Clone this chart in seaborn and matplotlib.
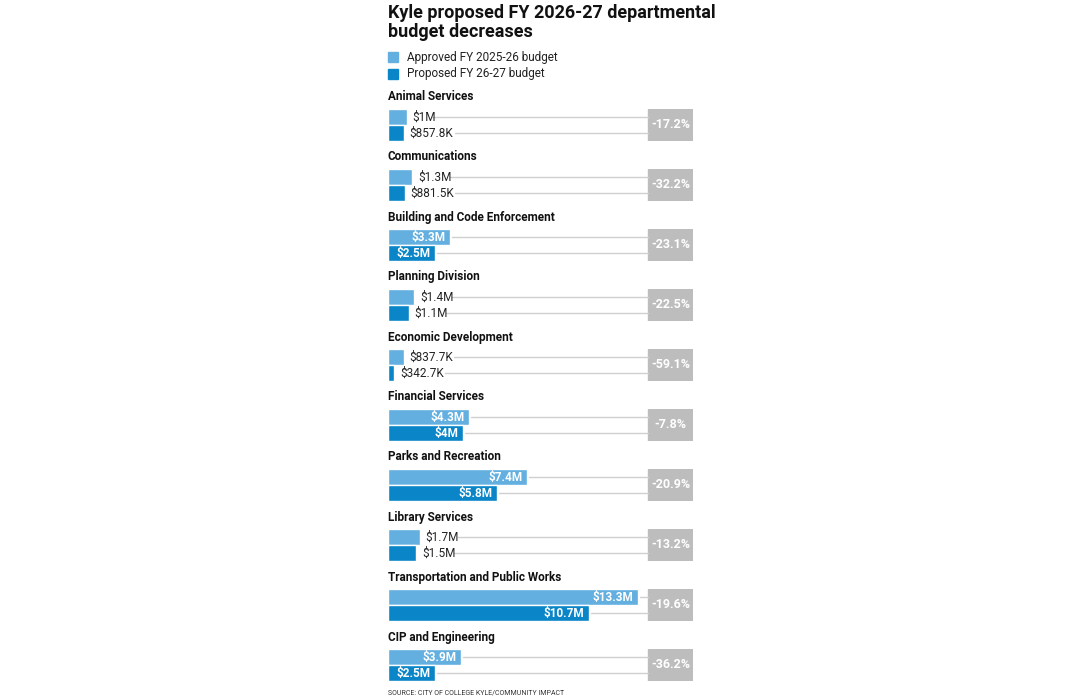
import matplotlib
matplotlib.use('Agg')
import matplotlib.pyplot as plt
import seaborn as sns
import pandas as pd

departments = ['Animal Services', 'Communications', 'Building and Code Enforcement',
               'Planning Division', 'Economic Development', 'Financial Services',
               'Parks and Recreation', 'Library Services',
               'Transportation and Public Works', 'CIP and Engineering']
approved = [1.0, 1.3, 3.3, 1.4, 0.8377, 4.3, 7.4, 1.7, 13.3, 3.9]
proposed = [0.8578, 0.8815, 2.5, 1.1, 0.3427, 4.0, 5.8, 1.5, 10.7, 2.5]
approved_labels = ['$1M', '$1.3M', '$3.3M', '$1.4M', '$837.7K', '$4.3M', '$7.4M', '$1.7M', '$13.3M', '$3.9M']
proposed_labels = ['$857.8K', '$881.5K', '$2.5M', '$1.1M', '$342.7K', '$4M', '$5.8M', '$1.5M', '$10.7M', '$2.5M']
changes = ['-17.2%', '-32.2%', '-23.1%', '-22.5%', '-59.1%', '-7.8%', '-20.9%', '-13.2%', '-19.6%', '-36.2%']

LIGHT = '#62afe0'
DARK = '#0a86c8'
GRAY = '#bdbdbd'
W, H = 1080, 699
sns.set_theme(style='white')
plt.rcParams['font.family'] = ['Roboto', 'DejaVu Sans']

fig = plt.figure(figsize=(10.8, 6.99), dpi=100)
fig.text(388 / W, 1 - 4 / H, 'Kyle proposed FY 2026-27 departmental\nbudget decreases',
         fontsize=13, fontweight='bold', va='top', ha='left', linespacing=1.1, color='#111')
for i, (lab, col) in enumerate([('Approved FY 2025-26 budget', LIGHT), ('Proposed FY 26-27 budget', DARK)]):
    y = 57 + 17 * i
    fig.patches.append(plt.Rectangle((388 / W, 1 - (y + 5) / H), 10 / W, 10 / H,
                                     transform=fig.transFigure, color=col))
    fig.text(407 / W, 1 - y / H, lab, fontsize=8.5, va='center', ha='left', color='#222')

x0, x1 = 388, 693
scale = 250 / 13.3
xmax = (x1 - x0) / scale
box_start = (648 - x0) / scale

for i, dept in enumerate(departments):
    top = 109 + 60 * i
    fig.text(388 / W, 1 - (top - 12) / H, dept, fontsize=8.5, fontweight='bold',
             va='center', ha='left', color='#111')
    ax = fig.add_axes([x0 / W, 1 - (top + 32) / H, (x1 - x0) / W, 32 / H])
    df = pd.DataFrame({'kind': ['Approved', 'Proposed'], 'value': [approved[i], proposed[i]]})
    sns.barplot(data=df, x='value', y='kind', hue='kind', palette=[LIGHT, DARK],
                orient='h', width=1.0, legend=False, ax=ax, saturation=1)
    ax.set_xlim(0, xmax)
    ax.set_ylim(1.5, -0.5)
    ax.axis('off')
    ax.axvspan(box_start, xmax, color=GRAY, zorder=0)
    ax.text((box_start + xmax) / 2, 0.5, changes[i], color='white', fontsize=9,
            fontweight='bold', ha='center', va='center')
    for j, (v, lab) in enumerate([(approved[i], approved_labels[i]), (proposed[i], proposed_labels[i])]):
        if v > 2.4:
            ax.text(v - 0.25, j, lab, color='white', fontsize=8.5, fontweight='bold',
                    ha='right', va='center')
            start = v + 0.1
        else:
            t = ax.text(v + 0.3, j, lab, color='#222', fontsize=8.5, ha='left', va='center')
            start = v + 0.3 + len(lab) * 0.34
        ax.plot([start, box_start], [j, j], color='#d0d0d0', lw=1, zorder=0)

fig.text(388 / W, 1 - 693 / H, 'SOURCE: CITY OF COLLEGE KYLE/COMMUNITY IMPACT',
         fontsize=5, va='center', ha='left', color='#333')
fig.savefig('out.png', dpi=100, facecolor='white')
